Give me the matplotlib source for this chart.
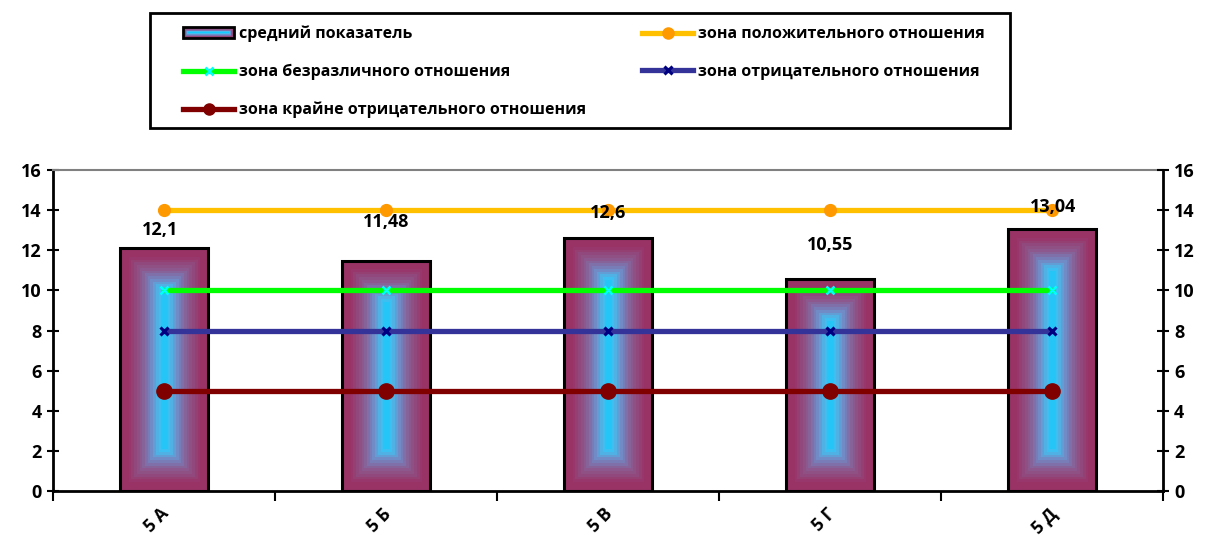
import matplotlib.pyplot as plt
import matplotlib.transforms as mtransforms
import numpy as np
from matplotlib.colors import LinearSegmentedColormap
from matplotlib.lines import Line2D
from matplotlib.patches import Patch, Rectangle
from matplotlib.legend_handler import HandlerBase

# Данные: средний показатель по классам и зоны отношения
klassy = ['5 А', '5 Б', '5 В', '5 Г', '5 Д']
srednij = [12.1, 11.48, 12.6, 10.55, 13.04]
podpisi = ['12,1', '11,48', '12,6', '10,55', '13,04']
zona_pol = [14, 14, 14, 14, 14]
zona_bez = [10, 10, 10, 10, 10]
zona_otr = [8, 8, 8, 8, 8]
zona_kr = [5, 5, 5, 5, 5]

plt.rcParams['font.family'] = ['Open Sans', 'DejaVu Sans']
plt.rcParams['font.weight'] = 'bold'

fig = plt.figure(figsize=(12.11, 5.4), dpi=100)
ax = fig.add_axes([53 / 1211, 49 / 540, 1110 / 1211, 321 / 540])
x = np.arange(len(klassy))
ax.set_xlim(-0.5, len(klassy) - 0.5)
ax.set_ylim(0, 16)

# Градиент "от центра": бордовый по краям, голубой в середине
cmap = LinearSegmentedColormap.from_list(
    'grad', [(0, '#993366'), (0.15, '#993366'), (0.45, '#8c5a8f'), (0.68, '#7488c4'),
             (0.85, '#48bcee'), (1, '#10ccff')])
shir = 0.4
px_x = 1110 / 5
px_y = 321 / 16
for xi, v in zip(x, srednij):
    w = shir * px_x
    h = v * px_y
    gx = np.linspace(0, w, int(w))
    gy = np.linspace(0, h, int(h))
    GX, GY = np.meshgrid(gx, gy)
    d = np.minimum(np.minimum(GX, w - GX), np.minimum(GY, h - GY)) / (w / 2)
    d = np.floor(d * 16) / 16
    ax.imshow(d, cmap=cmap, vmin=0, vmax=1, aspect='auto', origin='lower',
              extent=(xi - shir / 2, xi + shir / 2, 0, v), zorder=2, interpolation='nearest')
ax.bar(x, srednij, width=shir, facecolor='none', edgecolor='black', linewidth=2.2, zorder=3)

# Линии зон
ax.plot(x, zona_pol, color='#ffc000', lw=3.8, marker='o', ms=8.5, mfc='#ff9900', mec='#ff9900', zorder=4)
ax.plot(x, zona_bez, color='#00ff00', lw=3.8, marker='x', ms=6, mec='#00ffff', mew=1.8, zorder=4)
ax.plot(x, zona_otr, color='#333399', lw=3.8, marker='x', ms=6, mec='#000080', mew=2.2, zorder=4)
ax.plot(x, zona_kr, color='#800000', lw=3.8, marker='o', ms=11, mfc='#800000', mec='#800000', zorder=4)

# Подписи значений
sdvig = [(-3, 13), (0, 28), (0, 18), (0, 25), (1, 16)]
for xi, v, t, (dx, dy) in zip(x, srednij, podpisi, sdvig):
    ax.annotate(t, (xi, v), xytext=(dx, dy), textcoords='offset points',
                ha='center', va='center', fontsize=13, fontweight='bold', zorder=5)

# Оси
ax.set_yticks(np.arange(0, 17, 2))
ax.tick_params(axis='y', direction='inout', length=9, width=1.5, labelsize=13)
ax.set_xticks(x)
ax.set_xticklabels(klassy, rotation=45, fontsize=12.5, fontweight='bold', ha='right')
ax.tick_params(axis='x', length=0, pad=10)
sdv = mtransforms.ScaledTranslation(6 / 72, 0, fig.dpi_scale_trans)
for lab in ax.get_xticklabels():
    lab.set_transform(lab.get_transform() + sdv)
ax.set_xticks(np.arange(-0.5, len(klassy)), minor=True)
ax.tick_params(axis='x', which='minor', direction='out', length=7, width=1.5)
ax.spines['top'].set_color('#808080')
ax.spines['top'].set_linewidth(1.5)
ax.spines['left'].set_linewidth(2)
ax.spines['bottom'].set_linewidth(2)
ax.spines['right'].set_visible(False)

ax2 = ax.twinx()
ax2.set_ylim(0, 16)
ax2.set_yticks(np.arange(0, 17, 2))
ax2.tick_params(axis='y', direction='inout', length=9, width=1.5, labelsize=13)
for s in ['top', 'left', 'bottom']:
    ax2.spines[s].set_visible(False)
ax2.spines['right'].set_linewidth(2)


class GradHandler(HandlerBase):
    def create_artists(self, legend, orig_handle, xdescent, ydescent, width, height, fontsize, trans):
        arts = []
        n = 8
        step = height / 2 / n
        for k in range(n):
            r = Rectangle((-xdescent + k * step, -ydescent + k * step),
                          width - 2 * k * step, height - 2 * k * step,
                          facecolor=cmap(k / (n - 1)), edgecolor='none', transform=trans)
            arts.append(r)
        arts.append(Rectangle((-xdescent, -ydescent), width, height, facecolor='none',
                              edgecolor='black', linewidth=2, transform=trans))
        return arts


# Легенда
ruchki = [
    Patch(),
    Line2D([], [], color='#00ff00', lw=3.8, marker='x', ms=6, mec='#00ffff', mew=1.8),
    Line2D([], [], color='#800000', lw=3.8, marker='o', ms=8, mfc='#800000', mec='#800000'),
    Line2D([], [], color='#ffc000', lw=3.8, marker='o', ms=8, mfc='#ff9900', mec='#ff9900'),
    Line2D([], [], color='#333399', lw=3.8, marker='x', ms=6, mec='#000080', mew=2.2),
]
nazv = ['средний показатель', 'зона безразличного отношения', 'зона крайне отрицательного отношения',
        'зона положительного отношения', 'зона отрицательного отношения']
leg = fig.legend(ruchki, nazv, ncol=2, loc='center', mode='expand',
                 bbox_to_anchor=(183 / 1211, 1 - 120 / 540, 802 / 1211, 96 / 540),
                 fontsize=11.5, frameon=False, handlelength=3.2, borderaxespad=0, borderpad=0,
                 labelspacing=1.35, handletextpad=0.3, handler_map={Patch: GradHandler()})
for t in leg.get_texts():
    t.set_fontweight('bold')
fig.patches.append(Rectangle((150 / 1211, 1 - 128 / 540), 860 / 1211, 115 / 540,
                             transform=fig.transFigure, facecolor='none',
                             edgecolor='black', linewidth=2))

fig.savefig('out.png', dpi=100)
